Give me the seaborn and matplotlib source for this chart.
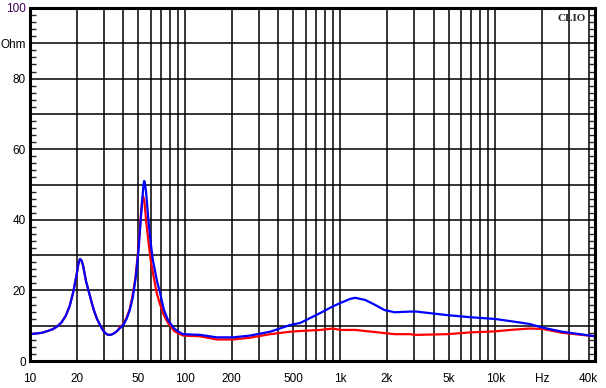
import matplotlib
matplotlib.use("Agg")
import matplotlib.pyplot as plt
import pandas as pd
import seaborn as sns

# impedance curves
blue_hz = [10, 11, 12, 13, 14, 15, 16, 17, 18, 19, 20, 20.5, 21, 21.5, 22, 23, 24, 25, 26, 27,
           28, 29, 30, 31, 32, 33, 34, 35, 36, 37, 38, 40, 42, 44, 46, 48, 50, 52, 53, 54, 54.5,
           55, 56, 57, 58, 60, 62, 66, 69, 73, 77.6, 85, 90, 97, 125, 160, 204, 262, 354, 477,
           554, 745, 900, 1000, 1160, 1250, 1450, 1680, 1940, 2250, 2810, 3100, 4900, 6900,
           10000, 12500, 16600, 20000, 27000, 44000]
blue_ohm = [7.6, 7.8, 8.0, 8.5, 9.0, 9.8, 11.0, 12.8, 15.5, 19.5, 24.5, 27.5, 28.9, 28.5, 27.0,
            22.5, 19.5, 16.5, 14.0, 12.0, 10.6, 9.3, 8.3, 7.7, 7.4, 7.4, 7.6, 7.9, 8.3, 8.8, 9.3,
            10.2, 12.0, 14.4, 18.0, 23.5, 31.0, 41.0, 46.0, 50.0, 51.0, 50.5, 48.0, 44.0, 40.0,
            33.5, 28.6, 22.5, 19.3, 14.5, 11.6, 9.2, 8.4, 7.6, 7.4, 6.7, 6.7, 7.2, 8.3, 10.2,
            10.8, 13.6, 15.5, 16.4, 17.6, 17.9, 17.3, 15.9, 14.4, 13.8, 14.0, 14.0, 13.0, 12.4,
            11.9, 11.3, 10.5, 9.5, 8.3, 7.0]

red_hz = [10, 11, 12, 13, 14, 15, 16, 17, 18, 19, 20, 20.5, 21, 21.5, 22, 23, 24, 25, 26, 27,
          28, 29, 30, 31, 32, 33, 34, 35, 36, 37, 38, 40, 42, 44, 46, 48, 50, 51, 52, 53, 53.6,
          54.5, 55, 56, 58, 60, 62, 65.6, 69, 73, 77.6, 85, 90, 97, 125, 160, 204, 262, 354,
          477, 554, 745, 900, 1000, 1160, 1250, 1450, 1680, 1940, 2250, 2810, 3100, 4900, 6900,
          10000, 12500, 16600, 20000, 27000, 44000]
red_ohm = [7.6, 7.8, 8.0, 8.5, 9.0, 9.8, 11.0, 12.8, 15.5, 19.5, 24.5, 27.5, 28.9, 28.5, 27.0,
           22.5, 19.5, 16.5, 14.0, 12.0, 10.6, 9.3, 8.3, 7.7, 7.4, 7.4, 7.6, 7.9, 8.3, 8.8, 9.6,
           10.4, 12.3, 14.8, 18.8, 24.0, 32.0, 37.0, 42.0, 46.0, 46.7, 45.5, 44.0, 40.0, 34.0,
           28.6, 25.0, 19.3, 16.0, 13.0, 10.8, 8.5, 7.9, 7.2, 7.0, 6.1, 6.1, 6.6, 7.6, 8.3, 8.5,
           8.8, 9.2, 8.8, 8.8, 8.8, 8.5, 8.2, 7.9, 7.6, 7.6, 7.4, 7.6, 8.1, 8.4, 8.8, 9.2, 9.1,
           8.0, 7.0]

x_grid = [10, 20, 30, 40, 50, 60, 70, 80, 90, 100, 200, 300, 400, 500, 600, 700, 800, 900,
          1000, 2000, 3000, 4000, 5000, 6000, 7000, 8000, 9000, 10000, 20000, 30000, 40000]
x_labels = {10: "10", 20: "20", 50: "50", 100: "100", 200: "200", 500: "500", 1000: "1k",
            2000: "2k", 5000: "5k", 10000: "10k", 20000: "Hz", 40000: "40k"}
y_labels = {0: "0", 20: "20", 40: "40", 60: "60", 80: "80", 90: "Ohm", 100: "100"}

df = pd.DataFrame({"freq": red_hz + blue_hz,
                   "ohm": red_ohm + blue_ohm,
                   "curve": ["red"] * len(red_hz) + ["blue"] * len(blue_hz)})

sns.set_style("white")
plt.rcParams["font.family"] = ["Liberation Sans", "DejaVu Sans"]

fig = plt.figure(figsize=(6.06, 3.88), dpi=100)
ax = fig.add_axes([30 / 606, 27 / 388, 565 / 606, 353 / 388])

ax.set_xscale("log")
ax.set_xlim(10, 44000)
ax.set_ylim(0, 100)

for x in x_grid:
    ax.axvline(x, color="black", lw=1.1, zorder=1)
for y in range(10, 100, 10):
    ax.axhline(y, color="black", lw=1.1, zorder=1)

sns.lineplot(data=df, x="freq", y="ohm", hue="curve", palette={"red": "#ff0000", "blue": "#0000ff"},
             hue_order=["red", "blue"], lw=1.6, legend=False, sort=False, estimator=None, ax=ax, zorder=3)

ax.set_xticks(x_grid)
ax.set_xticklabels([x_labels.get(x, "") for x in x_grid])
ax.xaxis.set_minor_locator(matplotlib.ticker.NullLocator())
ax.set_yticks(list(range(0, 101, 10)))
ax.set_yticklabels([y_labels.get(y, "") for y in range(0, 101, 10)])
ax.set_yticks(list(range(0, 101, 2)), minor=True)
ax.tick_params(axis="both", which="major", length=0, labelsize=8.5, colors="black")
ax.tick_params(axis="x", pad=9)
ax.tick_params(axis="y", pad=3)
ax.tick_params(axis="y", which="minor", direction="in", length=4, width=1, left=True, right=True)
ax.get_yticklabels()[-1].set_color("#400050")

for s in ax.spines.values():
    s.set_visible(True)
    s.set_color("black")
    s.set_linewidth(2.2)
    s.set_zorder(5)

ax.set_xlabel("")
ax.set_ylabel("")
ax.text(0.984, 0.983, "CLIO", transform=ax.transAxes, ha="right", va="top",
        fontsize=8, fontweight="bold", family=["Liberation Serif", "DejaVu Serif"], zorder=6)

fig.savefig("out.png", dpi=100, facecolor="white")
